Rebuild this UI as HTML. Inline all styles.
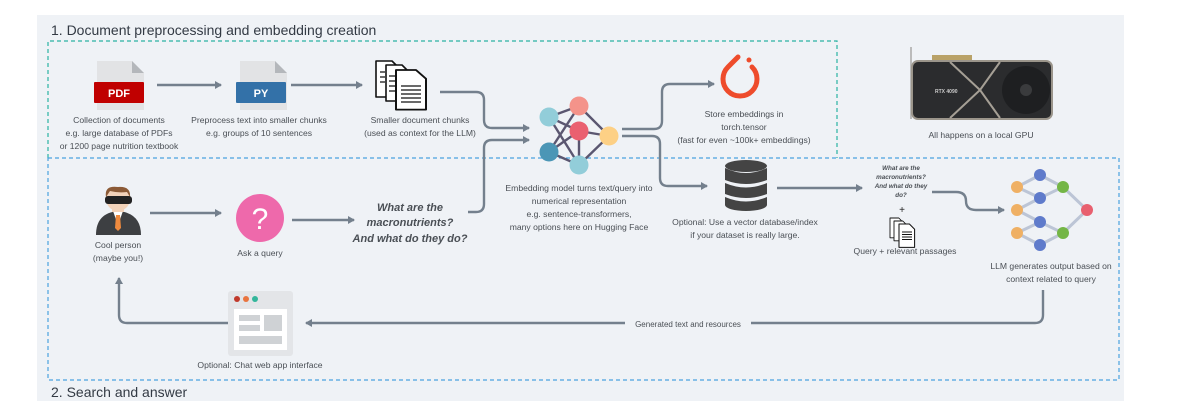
<!DOCTYPE html>
<html><head><meta charset="utf-8"><style>
html,body{margin:0;padding:0;background:#fff;width:1177px;height:401px;overflow:hidden}
svg{display:block}
text{font-family:"Liberation Sans",sans-serif;fill:#4a4f55}
.l{font-size:8.6px}
</style></head><body>
<svg width="1177" height="401" viewBox="0 0 1177 401" xmlns="http://www.w3.org/2000/svg">
<defs>
<marker id="ah" markerWidth="8" markerHeight="8" refX="6" refY="4" orient="auto" markerUnits="userSpaceOnUse"><path d="M0,0 L7,4 L0,8 Z" fill="#74808d"/></marker>
<g id="doc"><path d="M0,0 H16 L24,8 V36 H0 Z" fill="#fff" stroke="#111" stroke-width="1.6" stroke-linejoin="round"/></g>
</defs>
<rect x="37" y="15" width="1087" height="386" fill="#eff2f6"/>
<text x="51" y="35" style="font-size:14px;fill:#333a44">1. Document preprocessing and embedding creation</text>
<text x="51" y="397" style="font-size:14px;fill:#333a44">2. Search and answer</text>
<path d="M48,158 V41 H837 V158" fill="none" stroke="#2bb3a3" stroke-width="1.2" stroke-dasharray="4,3"/>
<path d="M48,158 H1119 V380 H48 Z" fill="none" stroke="#4aa3df" stroke-width="1.2" stroke-dasharray="4,3"/>

<g stroke="#74808d" stroke-width="2.4" fill="none" marker-end="url(#ah)">
<path d="M157,85 H221"/>
<path d="M291,85 H362"/>
<path d="M440,92 H476 Q484,92 484,100 V120 Q484,128 492,128 H529"/>
<path d="M468,212 H476 Q484,212 484,204 V148 Q484,140 492,140 H529"/>
<path d="M622,129 H654 Q662,129 662,121 V92 Q662,84 670,84 H714"/>
<path d="M622,136 H652 Q660,136 660,144 V178 Q660,186 668,186 H707"/>
<path d="M777,188 H862"/>
<path d="M932,192 H956 Q966,192 966,201 Q966,210 976,210 H1004"/>
<path d="M1043,290 V315 Q1043,323 1035,323 H306"/>
<path d="M228,323 H127 Q119,323 119,315 V278"/>
<path d="M150,213 H221"/>
<path d="M292,220 H354"/>
</g>
<rect x="625" y="318" width="126" height="11" fill="#eff2f6"/>
<text x="688" y="327" text-anchor="middle" style="font-size:8px">Generated text and resources</text>

<!-- PDF -->
<path d="M97,61 H132 L144,73 V110 H97 Z" fill="#e2e3e5"/><path d="M132,61 L144,73 H132 Z" fill="#b4b7bb"/>
<rect x="94" y="82" width="50" height="21" rx="1" fill="#c00000"/>
<text x="119" y="97" text-anchor="middle" style="font-size:11px;font-weight:bold;fill:#fff">PDF</text>
<text class="l" x="119" y="123" text-anchor="middle">Collection of documents</text>
<text class="l" x="119" y="136" text-anchor="middle">e.g. large database of PDFs</text>
<text class="l" x="119" y="149" text-anchor="middle">or 1200 page nutrition textbook</text>
<!-- PY -->
<path d="M240,61 H275 L287,73 V110 H240 Z" fill="#e2e3e5"/><path d="M275,61 L287,73 H275 Z" fill="#b4b7bb"/>
<rect x="236" y="82" width="50" height="21" rx="1" fill="#3371a8"/>
<text x="261" y="97" text-anchor="middle" style="font-size:11px;font-weight:bold;fill:#fff">PY</text>
<text class="l" x="259" y="123" text-anchor="middle">Preprocess text into smaller chunks</text>
<text class="l" x="259" y="136" text-anchor="middle">e.g. groups of 10 sentences</text>
<!-- docs -->
<g transform="translate(376,61)"><use href="#doc"/></g>
<g transform="translate(386,65)"><use href="#doc"/></g>
<g transform="translate(396,70) scale(1.25,1.1)"><use href="#doc"/></g>
<g stroke="#111" stroke-width="1.3"><path d="M380,72h5M380,77h5M380,82h5M389,76h6M389,81h6M389,86h6M389,91h6M401,86h20M401,90h20M401,94h20M401,98h20M401,102h20"/></g>
<text class="l" x="420" y="123" text-anchor="middle">Smaller document chunks</text>
<text class="l" x="420" y="136" text-anchor="middle">(used as context for the LLM)</text>

<!-- embedding network -->
<g stroke="#5a5670" stroke-width="2.4">
<line x1="549" y1="117" x2="579" y2="106"/><line x1="549" y1="117" x2="579" y2="131"/><line x1="549" y1="117" x2="579" y2="165"/>
<line x1="579" y1="106" x2="549" y2="152"/><line x1="579" y1="106" x2="609" y2="136"/><line x1="579" y1="131" x2="609" y2="136"/>
<line x1="579" y1="131" x2="579" y2="165"/><line x1="549" y1="152" x2="579" y2="131"/><line x1="549" y1="152" x2="579" y2="165"/><line x1="579" y1="165" x2="609" y2="136"/>
</g>
<circle cx="549" cy="117" r="9.5" fill="#92cdd9"/><circle cx="579" cy="106" r="9.5" fill="#f4938a"/>
<circle cx="579" cy="131" r="9.5" fill="#ea6070"/><circle cx="609" cy="136" r="9.5" fill="#fdd085"/>
<circle cx="549" cy="152" r="9.5" fill="#4b96b6"/><circle cx="579" cy="165" r="9.5" fill="#92cdd9"/>
<text class="l" x="579" y="191" text-anchor="middle">Embedding model turns text/query into</text>
<text class="l" x="579" y="204" text-anchor="middle">numerical representation</text>
<text class="l" x="579" y="217" text-anchor="middle">e.g. sentence-transformers,</text>
<text class="l" x="579" y="230" text-anchor="middle">many options here on Hugging Face</text>

<!-- pytorch -->
<path d="M738,57 L728,67 A17,17 0 1 0 752,67" fill="none" stroke="#ee4c2c" stroke-width="5" stroke-linecap="round"/>
<circle cx="749" cy="60" r="2.5" fill="#ee4c2c"/>
<text class="l" x="744" y="117" text-anchor="middle">Store embeddings in</text>
<text class="l" x="744" y="130" text-anchor="middle">torch.tensor</text>
<text class="l" x="744" y="143" text-anchor="middle">(fast for even ~100k+ embeddings)</text>

<!-- database -->
<g fill="#444">
<ellipse cx="746" cy="166" rx="21" ry="6"/>
<path d="M725,168 Q746,178 767,168 V180 Q746,188 725,180 Z"/>
<path d="M725,183 Q746,192 767,183 V194 Q746,202 725,194 Z"/>
<path d="M725,197 Q746,206 767,197 V205 A21,6 0 0 1 725,205 Z"/>
</g>
<text class="l" x="745" y="225" text-anchor="middle">Optional: Use a vector database/index</text>
<text class="l" x="745" y="238" text-anchor="middle">if your dataset is really large.</text>

<!-- GPU -->
<rect x="910" y="47" width="2" height="72" fill="#bbb"/>
<rect x="932" y="55" width="40" height="6" fill="#b9a268"/>
<rect x="912" y="61" width="140" height="58" rx="6" fill="#2b2c2e" stroke="#9b958b" stroke-width="2"/>
<path d="M950,62 L980,90 L950,118 M1000,62 L980,90 L1000,118" stroke="#a59f95" stroke-width="2" fill="none"/>
<circle cx="1026" cy="90" r="24" fill="#1e1f21"/><circle cx="1026" cy="90" r="6" fill="#3a3b3d"/>
<text x="935" y="93" style="font-size:5px;fill:#ccc;font-weight:bold">RTX 4090</text>
<text class="l" x="981" y="138" text-anchor="middle">All happens on a local GPU</text>

<!-- query small -->
<g style="font-size:6.3px;font-weight:bold;font-style:italic" text-anchor="middle">
<text x="901" y="170">What are the</text><text x="901" y="179">macronutrients?</text>
<text x="901" y="188">And what do they</text><text x="901" y="197">do?</text></g>
<text x="902" y="213" text-anchor="middle" style="font-size:10px;fill:#222">+</text>
<g transform="translate(890,218) scale(0.55)"><use href="#doc"/></g>
<g transform="translate(894,221) scale(0.55)"><use href="#doc"/></g>
<g transform="translate(899,224) scale(0.65)"><use href="#doc"/></g>
<g stroke="#111" stroke-width="0.9"><path d="M902,232h10M902,234.5h10M902,237h10M902,239.5h10"/></g>
<text class="l" x="905" y="254" text-anchor="middle">Query + relevant passages</text>

<!-- LLM -->
<g stroke="#bcc5d6" stroke-width="3" fill="none">
<path d="M1017,187 L1040,175 L1063,187 L1040,198 L1017,187 M1017,210 L1040,198 M1017,210 L1040,222 M1017,233 L1040,222 L1063,233 L1040,245 L1017,233 M1063,187 L1087,210 L1063,233"/>
</g>
<g fill="#efb064"><circle cx="1017" cy="187" r="6"/><circle cx="1017" cy="210" r="6"/><circle cx="1017" cy="233" r="6"/></g>
<g fill="#5f7bcb"><circle cx="1040" cy="175" r="6"/><circle cx="1040" cy="198" r="6"/><circle cx="1040" cy="222" r="6"/><circle cx="1040" cy="245" r="6"/></g>
<g fill="#74b646"><circle cx="1063" cy="187" r="6"/><circle cx="1063" cy="233" r="6"/></g>
<circle cx="1087" cy="210" r="6" fill="#e8606f"/>
<text class="l" x="1051" y="269" text-anchor="middle">LLM generates output based on</text>
<text class="l" x="1051" y="282" text-anchor="middle">context related to query</text>

<!-- person -->
<path d="M96,235 Q96,213 118,211 Q141,213 141,235 Z" fill="#3d3f42"/>
<path d="M113,211 L118,225 L123,211 Z" fill="#fff"/><path d="M116,215 L120,215 L121,228 L118,231 L115,228 Z" fill="#ef8a3e"/>
<rect x="112" y="204" width="12" height="8" fill="#f2d2b9"/>
<ellipse cx="118" cy="199" rx="12" ry="12" fill="#f2d2b9"/>
<path d="M106,197 Q104,185 118,187 Q131,186 130,197 L127,192 Q118,193 110,191 Z" fill="#8b5a36"/>
<rect x="105" y="196" width="27" height="8" rx="3" fill="#222"/>
<text class="l" x="118" y="248" text-anchor="middle">Cool person</text>
<text class="l" x="118" y="261" text-anchor="middle">(maybe you!)</text>

<circle cx="260" cy="218" r="24" fill="#ee69ab"/>
<text x="260" y="229" text-anchor="middle" style="font-size:30px;fill:#fff">?</text>
<text class="l" x="260" y="256" text-anchor="middle">Ask a query</text>

<g style="font-size:11px;font-weight:bold;font-style:italic" text-anchor="middle">
<text x="410" y="211">What are the</text><text x="410" y="226">macronutrients?</text><text x="410" y="242">And what do they do?</text></g>

<!-- chat window -->
<rect x="228" y="291" width="65" height="65" rx="3" fill="#e3e5e8"/>
<circle cx="237" cy="299" r="3" fill="#c0392b"/><circle cx="246" cy="299" r="3" fill="#e9743f"/><circle cx="255" cy="299" r="3" fill="#33b69b"/>
<rect x="234" y="309" width="53" height="41" fill="#fff"/>
<rect x="239" y="315" width="21" height="6" fill="#cfd2d5"/><rect x="239" y="325" width="21" height="6" fill="#cfd2d5"/>
<rect x="264" y="315" width="18" height="16" fill="#cfd2d5"/><rect x="239" y="336" width="43" height="8" fill="#cfd2d5"/>
<text class="l" x="260" y="368" text-anchor="middle">Optional: Chat web app interface</text>
</svg>
</body></html>
